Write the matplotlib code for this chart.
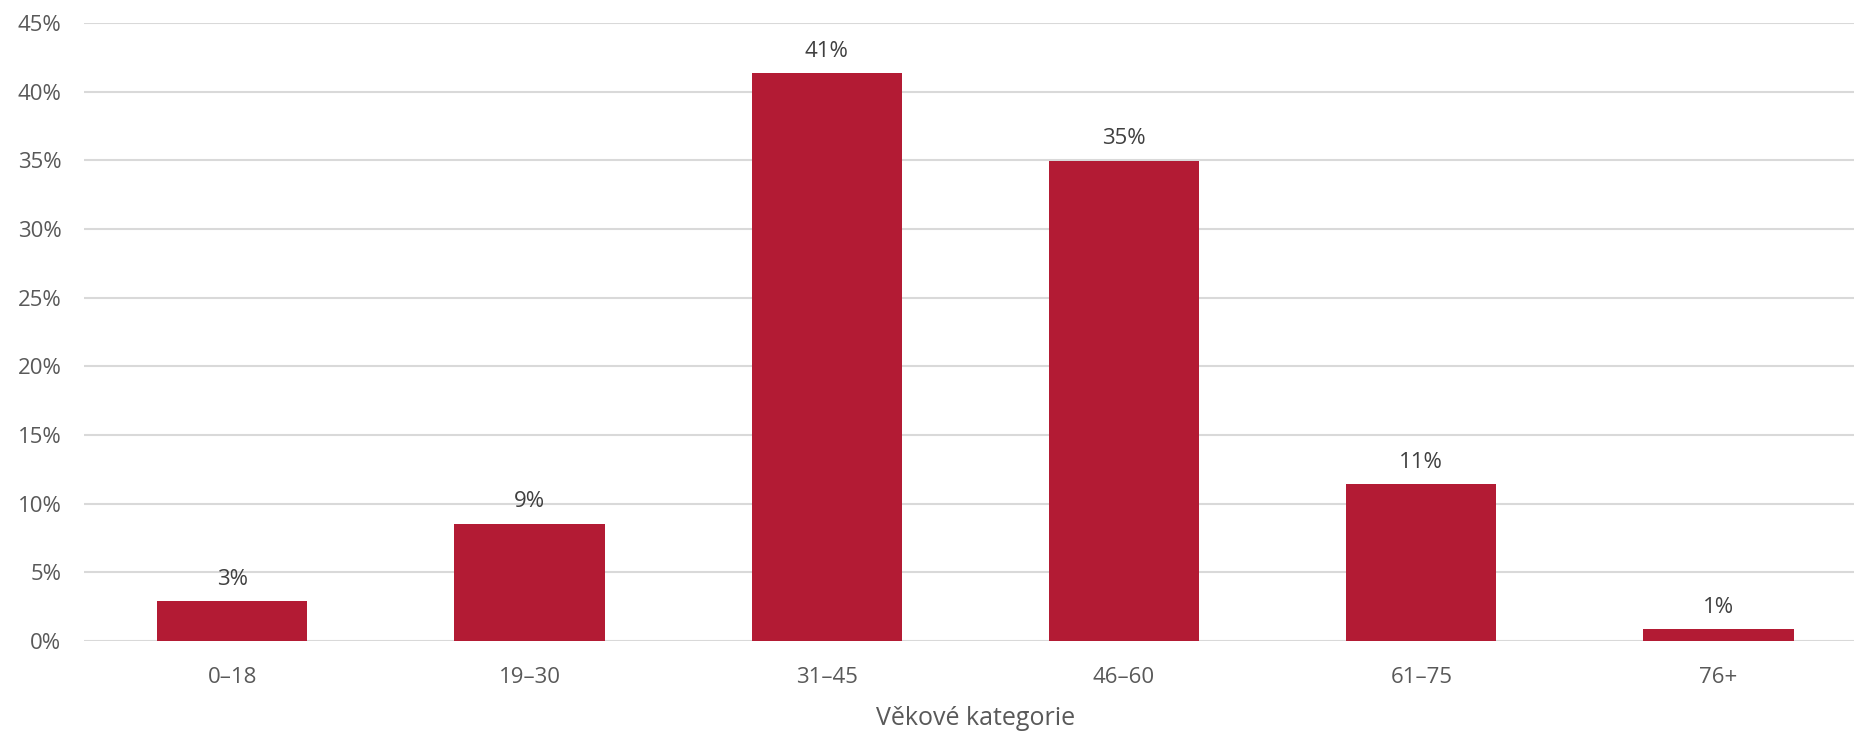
import matplotlib.pyplot as plt
from matplotlib.ticker import PercentFormatter

plt.rcParams["font.family"] = ["Open Sans", "DejaVu Sans"]

categories = ["0–18", "19–30", "31–45", "46–60", "61–75", "76+"]
shares = [2.88, 8.54, 41.34, 34.95, 11.41, 0.85]
labels = ["3%", "9%", "41%", "35%", "11%", "1%"]
yticks = [0, 5, 10, 15, 20, 25, 30, 35, 40, 45]

fig = plt.figure(figsize=(18.54, 7.33), dpi=100)
ax = fig.add_axes([0.0451, 0.1255, 0.962, 0.8431])

x = range(len(categories))
bars = ax.bar(x, shares, width=0.505, color="#B31B34", zorder=3)

for b, lab in zip(bars, labels):
    ax.annotate(lab, (b.get_x() + b.get_width() / 2, b.get_height()),
                xytext=(0, 16), textcoords="offset points",
                ha="center", va="center", fontsize=16, color="#404040")

ax.set_xlim(-0.5, 5.5)
ax.set_ylim(0, 45)
ax.set_yticks(yticks)
ax.yaxis.set_major_formatter(PercentFormatter(decimals=0))
ax.set_xticks(list(x))
ax.set_xticklabels(categories)
ax.grid(axis="y", color="#d9d9d9", linewidth=1.5, zorder=0)
ax.tick_params(axis="y", length=0, pad=16, labelsize=16, labelcolor="#595959")
ax.tick_params(axis="x", length=0, pad=19, labelsize=16, labelcolor="#595959")
for s in ax.spines.values():
    s.set_visible(False)

ax.set_xlabel("Věkové kategorie", fontsize=18, color="#595959", labelpad=13)

fig.savefig("out.png", dpi=100)
